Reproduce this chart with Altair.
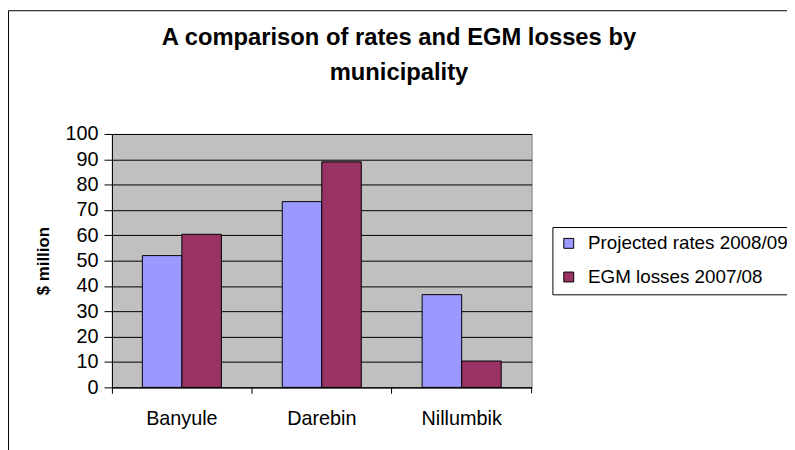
import altair as alt
import pandas as pd

municipalities = ["Banyule", "Darebin", "Nillumbik"]
series_names = ["Projected rates 2008/09", "EGM losses 2007/08"]
projected_rates = [52.0, 73.3, 36.6]
egm_losses = [60.4, 89.0, 10.4]
y_ticks = [0, 10, 20, 30, 40, 50, 60, 70, 80, 90, 100]
series_colors = ["#9999FF", "#993366"]

rows = []
for i, m in enumerate(municipalities):
    rows.append({"Municipality": m, "Series": series_names[0], "Value": projected_rates[i]})
    rows.append({"Municipality": m, "Series": series_names[1], "Value": egm_losses[i]})
df = pd.DataFrame(rows)

FONT = "Liberation Sans"

bars = alt.Chart(df).mark_bar(stroke="black", strokeWidth=1).encode(
    x=alt.X(
        "Municipality:N",
        sort=municipalities,
        scale=alt.Scale(paddingInner=0, paddingOuter=0),
        axis=alt.Axis(
            title=None, bandPosition=0, labelAngle=0, grid=False,
            tickSize=6, labelPadding=16, labelFontSize=20,
            domainColor="black", tickColor="black", labelColor="black",
        ),
    ),
    xOffset=alt.XOffset(
        "Series:N", sort=series_names,
        scale=alt.Scale(paddingInner=0, paddingOuter=0.77),
    ),
    y=alt.Y(
        "Value:Q",
        scale=alt.Scale(domain=[0, 100], nice=False),
        axis=alt.Axis(
            values=y_ticks, title="$ million", titleFontSize=17,
            titleFontWeight="bold", titlePadding=13, titleColor="black",
            labelFontSize=20, labelPadding=6, tickSize=8,
            grid=True, gridColor="black", gridWidth=1,
            domainColor="black", tickColor="black", labelColor="black",
        ),
    ),
    color=alt.Color(
        "Series:N", sort=series_names,
        scale=alt.Scale(domain=series_names, range=series_colors),
        legend=alt.Legend(
            title=None, orient="none", legendX=445, legendY=94,
            strokeColor="black", fillColor="white", padding=7,
            symbolType="square", symbolSize=100,
            symbolStrokeColor="black", symbolStrokeWidth=1,
            labelFontSize=19, labelColor="black", labelOffset=10,
            labelLimit=400, rowPadding=14,
        ),
    ),
)

one = pd.DataFrame({"k": [0]})
end_tick = alt.Chart(one).mark_rule(color="black", strokeWidth=1).encode(
    x=alt.value(424), y=alt.value(256), y2=alt.value(262)
)
frame = alt.Chart(one).mark_rect(fill="transparent", stroke="black", strokeWidth=1).encode(
    x=alt.value(-104.5), y=alt.value(-124.5), x2=alt.value(900), y2=alt.value(600)
)

chart = alt.layer(frame, bars, end_tick).properties(
    width=424,
    height=256,
    title=alt.TitleParams(
        text=["A comparison of rates and EGM losses by", "municipality"],
        fontSize=24, fontWeight="bold", font=FONT, color="black",
        anchor="middle", frame="group", dx=78, offset=-75, lineHeight=35,
    ),
    autosize=alt.AutoSizeParams(type="none"),
    padding={"left": 105, "top": 125, "right": 258, "bottom": 61},
).configure(
    font=FONT,
    background="white",
).configure_view(
    fill="#C0C0C0", stroke="#808080", strokeWidth=1
)

chart.save("out.html", embed_options={"renderer": "svg", "actions": False})
